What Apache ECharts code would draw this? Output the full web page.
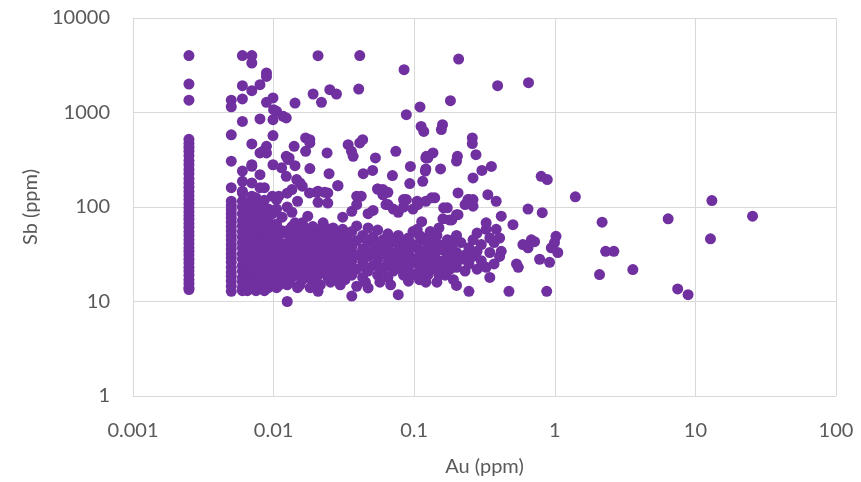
<!DOCTYPE html>
<html>
<head>
<meta charset="utf-8">
<script src="https://cdn.jsdelivr.net/npm/echarts@6/dist/echarts.min.js"></script>
<style>html,body{margin:0;padding:0;background:#fff;}#chart{width:861px;height:482px;}</style>
</head>
<body>
<div id="chart"></div>
<script>
// Axis tick labels
const xTickLabels = ['0.001', '0.01', '0.1', '1', '10', '100'];
const yTickLabels = ['1', '10', '100', '1000', '10000'];
const xAxisTitle = 'Au (ppm)';
const yAxisTitle = 'Sb (ppm)';

// Au = 0.0025 column (Sb values)
const columnA_Au = 0.0025;
const columnA_Sb = [4000, 2000, 1350, 520, 470, 430, 390, 350, 310, 280, 250, 225, 200, 180, 162, 146, 132, 120, 108, 98, 89, 81, 74, 67, 61, 55, 50, 45, 41, 37, 34, 31, 28, 25.5, 23, 21, 19, 17, 15.5, 14, 13.4];

// Au = 0.005 column (Sb values)
const columnB_Au = 0.005;
const columnB_Sb = [1350, 1150, 580, 305, 160, 115, 104, 94, 85, 77, 69, 62, 56, 50, 45, 40, 36, 32, 29, 26, 23, 20.5, 18.5, 16.5, 14.5, 12.8];

// Dense group 0.006 - 0.0098 ppm Au: [Au, [Sb...]]
const denseLeft = [
  [0.006, [13, 14, 16, 18, 21, 24, 28, 32, 37, 42, 48, 55, 63, 72, 85, 100, 115, 141, 147, 187, 240]],
  [0.0065, [13, 15, 17.5, 20, 23, 26, 30, 35, 40, 46, 53, 61, 70, 82, 95, 110]],
  [0.007, [14, 16, 19, 22, 25, 29, 33, 38, 44, 50, 58, 66, 76, 88, 102, 130, 180, 270, 280]],
  [0.0075, [13, 15, 17, 20, 23, 27, 31, 36, 41, 47, 54, 62, 71, 83, 96, 125]],
  [0.008, [14, 16, 18.5, 21, 24, 28, 32, 37, 43, 49, 56, 65, 75, 90, 105, 160, 220]],
  [0.0086, [13, 15, 17, 20, 23, 26, 30, 35, 40, 46, 52, 60, 70, 80, 118, 160]],
  [0.0092, [14, 16, 19, 22, 25, 29, 33, 38, 44, 51, 58, 68, 78, 95]],
  [0.0098, [15, 17, 21, 24, 28, 32, 36, 42, 48, 55, 64, 85, 130]]
];

// Dense group 0.01 - 0.1 ppm Au
const denseMid = [
  [0.0105, [14, 19, 26, 35, 48, 66, 95, 120]],
  [0.0115, [17, 22, 30, 41, 56, 78]],
  [0.0125, [10, 15, 20, 27, 37, 52, 100, 140]],
  [0.0135, [18, 24, 33, 45, 62, 88, 153]],
  [0.0148, [14, 21, 29, 40, 55, 115]],
  [0.016, [17, 23, 32, 47, 68, 166]],
  [0.0175, [20, 27, 38, 52, 80]],
  [0.019, [16, 24, 34, 44, 62]],
  [0.0207, [12.8, 19, 28, 40, 57, 112, 147]],
  [0.0225, [22, 31, 46, 68]],
  [0.0243, [18, 26, 36, 53, 110, 141]],
  [0.0265, [21, 30, 42, 60]],
  [0.0287, [17, 25, 35, 50, 168]],
  [0.031, [20, 29, 40, 58, 78]],
  [0.0335, [23, 33, 47]],
  [0.036, [11.4, 19, 27, 38, 55, 90]],
  [0.039, [14.5, 22, 31, 44, 63, 106, 130]],
  [0.043, [18, 26, 36, 50]],
  [0.047, [13.9, 21, 30, 42, 60, 85]],
  [0.051, [24, 34, 48, 92]],
  [0.055, [19, 28, 40, 57, 155]],
  [0.06, [22, 32, 45, 135, 153]],
  [0.065, [18, 26, 37, 52, 106, 143]],
  [0.071, [21, 30, 43, 95]],
  [0.077, [11.8, 25, 35, 50, 88]],
  [0.084, [19, 28, 40, 100, 120]],
  [0.091, [16.4, 23, 33, 47]],
  [0.098, [26, 38, 55, 95]]
];

// Additional points filling the 0.01 - 0.2 ppm Au band
const denseFill = [
  [0.011, [15, 21, 28, 38, 52]],
  [0.013, [16, 22, 30, 42, 58]],
  [0.0142, [19, 26, 35, 48, 68]],
  [0.0154, [15, 20, 27, 37, 52]],
  [0.0168, [18, 25, 34, 45, 60]],
  [0.0182, [14, 22, 30, 40, 55]],
  [0.0198, [17, 24, 33, 48]],
  [0.0215, [15, 21, 27, 37, 52]],
  [0.0234, [20, 29, 40, 60]],
  [0.0254, [16, 24, 33, 47]],
  [0.0275, [19, 28, 40, 55]],
  [0.0298, [15, 22, 32, 45]],
  [0.0322, [17, 25, 36, 52]],
  [0.045, [16, 23, 33, 46]],
  [0.057, [16, 23, 35]],
  [0.068, [15, 24, 33, 46]],
  [0.081, [22, 32, 45]],
  [0.095, [19, 29, 41]],
  [0.109, [17, 24, 34, 50]],
  [0.125, [19, 27, 38]],
  [0.145, [16, 23, 35, 50]],
  [0.166, [19, 27, 40]],
  [0.18, [22, 31]],
  [0.19, [17, 28, 45]]
];

// Dense group 0.1 - 1 ppm Au
const denseRight = [
  [0.105, [20, 28, 40, 58, 115]],
  [0.113, [24, 34, 48, 70]],
  [0.121, [16, 21, 30, 44, 115]],
  [0.13, [26, 37, 55]],
  [0.14, [22, 32, 46, 125]],
  [0.15, [19, 27, 40, 60]],
  [0.16, [24, 35, 75]],
  [0.172, [21, 30, 45, 98]],
  [0.185, [26, 38, 73]],
  [0.2, [14.8, 23, 33, 50, 83]],
  [0.215, [28, 42]],
  [0.23, [21, 31, 106]],
  [0.245, [12.8, 25, 37, 120]],
  [0.262, [30, 45, 102]],
  [0.28, [22, 34, 53]],
  [0.3, [27, 40]],
  [0.325, [23, 58, 68]],
  [0.345, [18, 33, 47]],
  [0.37, [25, 42]],
  [0.383, [58, 115]],
  [0.405, [30, 47]],
  [0.416, [34, 80]],
  [0.472, [12.8]],
  [0.504, [65]],
  [0.534, [25]],
  [0.55, [23]],
  [0.593, [40]],
  [0.645, [37, 95]],
  [0.681, [45]],
  [0.718, [43]],
  [0.78, [28]],
  [0.814, [87]],
  [0.876, [12.8]],
  [0.918, [26]],
  [0.944, [37]],
  [0.995, [42]],
  [1.02, [49]],
  [1.05, [33]]
];

// Scattered points [Au, Sb]
const scatteredHigh = [
  [0.006, 4000], [0.007, 4000], [0.007, 3340], [0.0089, 2620], [0.0089, 2410], [0.006, 1920], [0.008, 1970], [0.007, 1700],
  [0.006, 1390], [0.0089, 1280], [0.0099, 1425], [0.01, 1070], [0.0105, 1030], [0.0117, 910], [0.0123, 875], [0.0099, 840],
  [0.006, 805], [0.008, 855], [0.0099, 570], [0.007, 465], [0.0089, 439], [0.0084, 388], [0.008, 373], [0.0089, 373], [0.0123, 344],
  [0.0207, 3990], [0.041, 4000], [0.0847, 2840], [0.207, 3680], [0.0191, 1570], [0.0219, 1280], [0.0251, 1745], [0.028, 1570],
  [0.0403, 1770], [0.0142, 1260], [0.0879, 949], [0.110, 1145], [0.181, 1335], [0.112, 713], [0.117, 631], [0.159, 743], [0.156, 659],
  [0.259, 538], [0.259, 469], [0.275, 358], [0.392, 1920], [0.65, 2070],
  [0.0169, 538], [0.0181, 516], [0.0181, 476], [0.014, 439], [0.0169, 388], [0.0129, 331], [0.024, 373], [0.0339, 457], [0.0358, 388],
  [0.0368, 344], [0.041, 476], [0.043, 516], [0.053, 331], [0.074, 388], [0.122, 344],
  [0.136, 373], [0.125, 331], [0.203, 344], [0.2, 306], [0.121, 253], [0.154, 253], [0.115, 187], [0.303, 244], [0.354, 269],
  [0.262, 203], [0.80, 211], [0.884, 195], [0.205, 141], [0.334, 135], [0.241, 120], [0.262, 120],
  [0.0123, 211], [0.0154, 180], [0.0286, 168], [0.0202, 143], [0.0231, 143], [0.042, 130], [0.055, 155], [0.06, 135], [0.063, 106],
  [0.088, 120], [0.093, 177], [0.106, 106], [0.0142, 274], [0.0181, 255], [0.0248, 225], [0.0434, 225], [0.0506, 244], [0.070, 215],
  [0.094, 269], [0.121, 331], [0.12, 240], [0.0146, 195], [0.0099, 280], [0.0114, 260], [0.0127, 318], [0.0109, 130], [0.018, 141],
  [0.133, 125], [0.162, 98], [0.178, 73], [0.205, 83]
];

// Points above 1 ppm Au
const scatteredRight = [
  [1.40, 128], [13.1, 117], [25.5, 80], [2.17, 69], [6.4, 75], [12.8, 46], [2.3, 34], [2.63, 34], [3.59, 21.8], [2.08, 19.3],
  [7.48, 13.6], [8.87, 11.8]
];

const points = [];
columnA_Sb.forEach(s => points.push([columnA_Au, s]));
columnB_Sb.forEach(s => points.push([columnB_Au, s]));
[denseLeft, denseMid, denseFill, denseRight].forEach(group => group.forEach(([au, list]) => list.forEach(s => points.push([au, s]))));
scatteredHigh.forEach(p => points.push(p));
scatteredRight.forEach(p => points.push(p));

const textColor = '#595959';
const gridColor = '#d9d9d9';
const fontFamily = 'Lato';

const chart = echarts.init(document.getElementById('chart'), null, {renderer: 'canvas'});
chart.setOption({
  animation: false,
  grid: {left: 133, right: 25, top: 18, bottom: 86, containLabel: false},
  xAxis: {
    type: 'log', logBase: 10, min: 0.001, max: 100,
    name: xAxisTitle, nameLocation: 'middle', nameGap: 61,
    nameTextStyle: {color: textColor, fontSize: 20, fontFamily: fontFamily},
    axisLine: {show: true, onZero: false, lineStyle: {color: gridColor, width: 1}},
    axisTick: {show: false},
    splitLine: {show: true, lineStyle: {color: gridColor, width: 1}},
    minorSplitLine: {show: false},
    axisLabel: {
      margin: 25, color: textColor, fontSize: 20, fontFamily: fontFamily,
      formatter: v => xTickLabels[Math.round(Math.log10(v)) + 3]
    }
  },
  yAxis: {
    type: 'log', logBase: 10, min: 1, max: 10000,
    name: yAxisTitle, nameLocation: 'middle', nameGap: 92, nameRotate: 90,
    nameTextStyle: {color: textColor, fontSize: 20, fontFamily: fontFamily},
    axisLine: {show: true, onZero: false, lineStyle: {color: gridColor, width: 1}},
    axisTick: {show: false},
    splitLine: {show: true, lineStyle: {color: gridColor, width: 1}},
    axisLabel: {
      margin: 23, color: textColor, fontSize: 20, fontFamily: fontFamily,
      formatter: v => yTickLabels[Math.round(Math.log10(v))]
    }
  },
  series: [{
    type: 'scatter',
    symbol: 'circle',
    symbolSize: 11,
    itemStyle: {color: '#7030A0', opacity: 1},
    data: points
  }]
});
</script>
</body>
</html>
